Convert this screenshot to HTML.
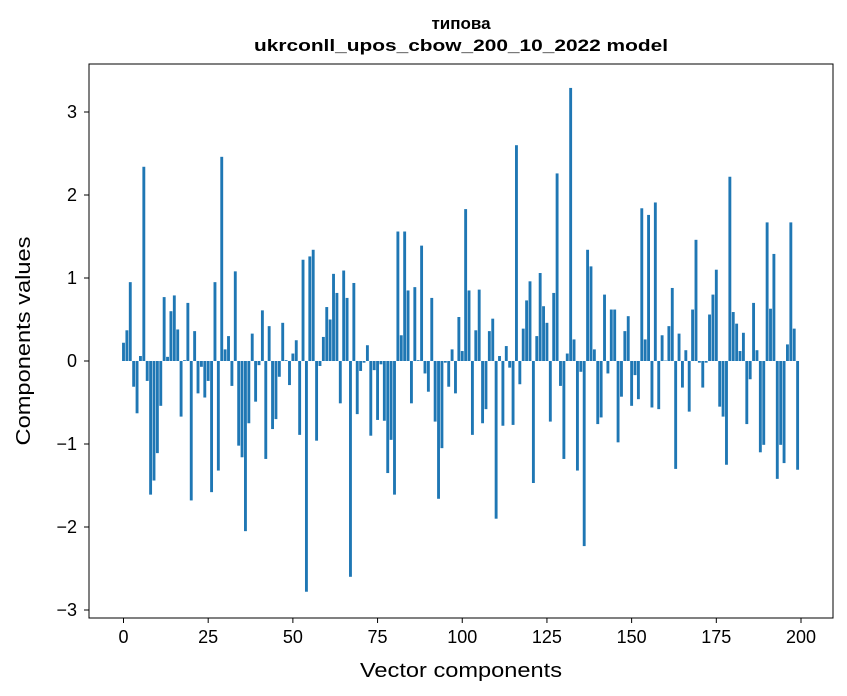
<!DOCTYPE html>
<html><head><meta charset="utf-8"><style>
html,body{margin:0;padding:0;background:#fff;}
svg{display:block;font-family:"Liberation Sans","DejaVu Sans",sans-serif;}
</style></head><body>
<svg id="chart" width="847" height="696" viewBox="0 0 847 696" xmlns="http://www.w3.org/2000/svg">
<rect x="0" y="0" width="847" height="696" fill="#fff"/>
<text x="461" y="29" text-anchor="middle" font-size="17" font-weight="bold">типова</text>
<text x="461" y="51" text-anchor="middle" font-size="17" font-weight="bold" textLength="414" lengthAdjust="spacingAndGlyphs">ukrconll_upos_cbow_200_10_2022 model</text>
<g id="bars"></g>
<g id="xticks"></g>
<g id="yticks"></g>
<rect x="89" y="64" width="744" height="554" fill="none" stroke="#000" stroke-width="1"/>
<text x="461" y="677" text-anchor="middle" font-size="20" textLength="202" lengthAdjust="spacingAndGlyphs">Vector components</text>
<text transform="translate(30,341) rotate(-90)" text-anchor="middle" font-size="20" textLength="209" lengthAdjust="spacingAndGlyphs">Components values</text>
</svg>
<script>
const values = [
0.22,0.37,0.95,-0.31,-0.63,0.06,2.34,-0.24,-1.61,-1.44,
-1.11,-0.54,0.77,0.05,0.60,0.79,0.38,-0.67,0.01,0.70,
-1.68,0.36,-0.39,-0.07,-0.44,-0.24,-1.58,0.95,-1.32,2.46,
0.14,0.30,-0.30,1.08,-1.02,-1.16,-2.05,-0.75,0.33,-0.49,
-0.05,0.61,-1.18,0.42,-0.82,-0.70,-0.19,0.46,0.01,-0.29,
0.09,0.25,-0.89,1.22,-2.78,1.26,1.34,-0.96,-0.06,0.29,
0.65,0.50,1.05,0.82,-0.51,1.09,0.76,-2.60,0.94,-0.64,
-0.12,-0.02,0.19,-0.90,-0.11,-0.71,-0.04,-0.72,-1.35,-0.95,
-1.61,1.56,0.31,1.56,0.85,-0.51,0.89,0.01,1.39,-0.15,
-0.37,0.76,-0.73,-1.66,-1.05,-0.02,-0.31,0.14,-0.39,0.53,
0.12,1.83,0.85,-0.89,0.37,0.86,-0.75,-0.58,0.36,0.51,
-1.90,0.06,-0.78,0.18,-0.08,-0.77,2.60,-0.28,0.39,0.73,
0.96,-1.47,0.30,1.06,0.66,0.46,-0.73,0.82,2.26,-0.30,
-1.18,0.09,3.29,0.26,-1.32,-0.13,-2.23,1.34,1.14,0.14,
-0.76,-0.68,0.80,-0.15,0.62,0.62,-0.98,-0.43,0.36,0.54,
-0.54,-0.17,-0.46,1.84,0.26,1.76,-0.56,1.91,-0.58,0.31,
0.005,0.42,0.88,-1.30,0.33,-0.32,0.13,-0.61,0.62,1.46,
-0.02,-0.32,-0.02,0.56,0.80,1.10,-0.55,-0.67,-1.25,2.22,
0.59,0.45,0.12,0.34,-0.76,-0.22,0.70,0.13,-1.10,-1.01,
1.67,0.63,1.29,-1.42,-1.01,-1.23,0.20,1.67,0.39,-1.31
];
const xTickValues = [0,25,50,75,100,125,150,175,200];
const yTickValues = [-3,-2,-1,0,1,2,3];

const NS = "http://www.w3.org/2000/svg";
const x0 = 123.5, xScale = 3.3875, y0 = 361, yScale = 83;
function xPos(v){ return x0 + v * xScale; }
function yPos(v){ return y0 - v * yScale; }

const barsG = document.getElementById('bars');
const bw = 0.85 * xScale;
values.forEach((v, i) => {
  const r = document.createElementNS(NS, 'rect');
  const top = Math.min(yPos(v), yPos(0));
  r.setAttribute('x', xPos(i) - bw / 2);
  r.setAttribute('y', top);
  r.setAttribute('width', bw);
  r.setAttribute('height', Math.abs(yPos(v) - yPos(0)));
  r.setAttribute('fill', '#1f77b4');
  
  
  barsG.appendChild(r);
});

const xg = document.getElementById('xticks');
xTickValues.forEach(t => {
  const l = document.createElementNS(NS, 'line');
  l.setAttribute('x1', xPos(t)); l.setAttribute('x2', xPos(t));
  l.setAttribute('y1', 618); l.setAttribute('y2', 623);
  l.setAttribute('stroke', '#000');
  
  
  xg.appendChild(l);
  const tx = document.createElementNS(NS, 'text');
  tx.setAttribute('x', xPos(t)); tx.setAttribute('y', 643);
  tx.setAttribute('text-anchor', 'middle'); tx.setAttribute('font-size', '18');
  
  
  tx.textContent = t;
  xg.appendChild(tx);
});

const yg = document.getElementById('yticks');
yTickValues.forEach(t => {
  const l = document.createElementNS(NS, 'line');
  l.setAttribute('x1', 84); l.setAttribute('x2', 89);
  l.setAttribute('y1', yPos(t)); l.setAttribute('y2', yPos(t));
  l.setAttribute('stroke', '#000');
  
  
  yg.appendChild(l);
  const tx = document.createElementNS(NS, 'text');
  tx.setAttribute('x', 77); tx.setAttribute('y', yPos(t) + 6);
  tx.setAttribute('text-anchor', 'end'); tx.setAttribute('font-size', '18');
  
  
  tx.textContent = t < 0 ? '\u2212' + Math.abs(t) : String(t);
  yg.appendChild(tx);
});
</script>
</body></html>
